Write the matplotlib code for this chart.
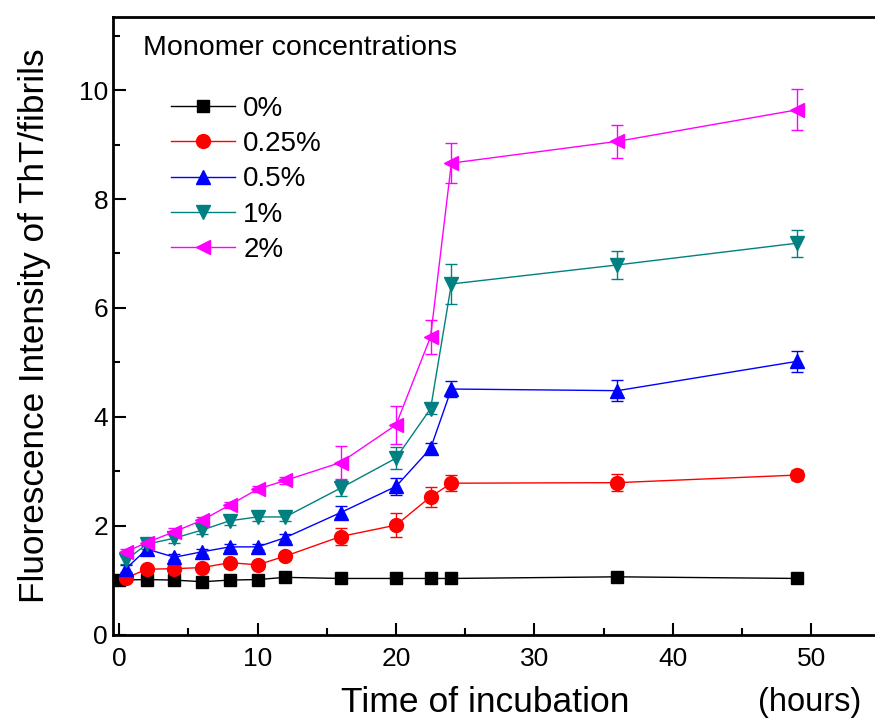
import matplotlib
matplotlib.use('Agg')
import matplotlib.pyplot as plt
from matplotlib.ticker import MultipleLocator

# 데이터
TIME_BLACK = [0, 2, 4, 6, 8, 10, 12, 16, 20, 22.5, 24, 36, 49]
TIME = [0.5, 2, 4, 6, 8, 10, 12, 16, 20, 22.5, 24, 36, 49]

Y_0 = [1.00, 1.01, 1.00, 0.97, 1.00, 1.01, 1.05, 1.03, 1.03, 1.03, 1.03, 1.06, 1.03]
E_0 = [0.02, 0.02, 0.02, 0.02, 0.02, 0.02, 0.02, 0.02, 0.02, 0.02, 0.02, 0.02, 0.02]

Y_025 = [1.04, 1.20, 1.21, 1.23, 1.32, 1.28, 1.44, 1.80, 2.01, 2.53, 2.78, 2.79, 2.93]
E_025 = [0.05, 0.05, 0.05, 0.05, 0.05, 0.05, 0.06, 0.15, 0.22, 0.18, 0.15, 0.15, 0.10]

Y_05 = [1.21, 1.57, 1.42, 1.52, 1.61, 1.61, 1.78, 2.24, 2.72, 3.42, 4.51, 4.48, 5.02]
E_05 = [0.06, 0.08, 0.06, 0.06, 0.06, 0.06, 0.06, 0.12, 0.15, 0.10, 0.15, 0.19, 0.19]

Y_1 = [1.37, 1.66, 1.77, 1.92, 2.09, 2.16, 2.16, 2.69, 3.24, 4.15, 6.44, 6.79, 7.19]
E_1 = [0.08, 0.08, 0.08, 0.08, 0.08, 0.08, 0.08, 0.15, 0.20, 0.10, 0.37, 0.25, 0.25]

Y_2 = [1.52, 1.69, 1.89, 2.10, 2.38, 2.67, 2.83, 3.16, 3.85, 5.47, 8.66, 9.06, 9.64]
E_2 = [0.06, 0.06, 0.06, 0.06, 0.06, 0.06, 0.06, 0.30, 0.35, 0.31, 0.37, 0.30, 0.38]

LABELS = ['0%', '0.25%', '0.5%', '1%', '2%']
COLORS = ['black', 'red', 'blue', '#008080', 'magenta']
MARKERS = ['s', 'o', '^', 'v', '<']

plt.rcParams['font.family'] = ['Liberation Sans', 'DejaVu Sans']

fig = plt.figure(figsize=(8.75, 7.26), dpi=100)
ax = fig.add_axes([0.129, 0.126, 0.871, 0.851])

series = [
    (TIME_BLACK, Y_0, E_0),
    (TIME, Y_025, E_025),
    (TIME, Y_05, E_05),
    (TIME, Y_1, E_1),
    (TIME, Y_2, E_2),
]

handles = []
for (t, y, e), lab, col, mk in zip(series, LABELS, COLORS, MARKERS):
    ms = 9 if mk == 's' else 10
    h = ax.errorbar(t, y, yerr=e, color=col, marker=mk, markersize=ms,
                    linewidth=1, elinewidth=1, capsize=4.5, capthick=1)
    handles.append(h.lines[0])

ax.set_xlim(-0.45, 54.6)
ax.set_ylim(0, 11.35)
ax.xaxis.set_major_locator(MultipleLocator(10))
ax.xaxis.set_minor_locator(MultipleLocator(5))
ax.yaxis.set_major_locator(MultipleLocator(2))
ax.yaxis.set_minor_locator(MultipleLocator(1))
ax.tick_params(which='both', direction='in', width=1.5, labelsize=19)
ax.tick_params(which='major', length=9)
ax.tick_params(which='minor', length=5)
ax.tick_params(axis='x', pad=9)
for s in ['left', 'bottom', 'top']:
    ax.spines[s].set_linewidth(2)
ax.spines['right'].set_visible(False)

ax.set_ylabel('Fluorescence Intensity of ThT/fibrils', fontsize=25.3, labelpad=20)
fig.text(485 / 875, 1 - 703 / 726, 'Time of incubation', fontsize=25.5,
         ha='center', va='center')
fig.text(810 / 875, 1 - 703 / 726, '(hours)', fontsize=23.5,
         ha='center', va='center')

# 범례
ax.text(143 / 875, 1 - 48 / 726, 'Monomer concentrations', fontsize=20.5,
        transform=fig.transFigure, ha='left', va='center')
ax.legend(handles, LABELS, loc='upper left', frameon=False, fontsize=20,
          bbox_to_anchor=(171 / 875, 1 - 96 / 726), bbox_transform=fig.transFigure,
          borderaxespad=0, borderpad=0, handlelength=2.3, handletextpad=0.3,
          labelspacing=0.33)

plt.savefig('out.png', dpi=100)
